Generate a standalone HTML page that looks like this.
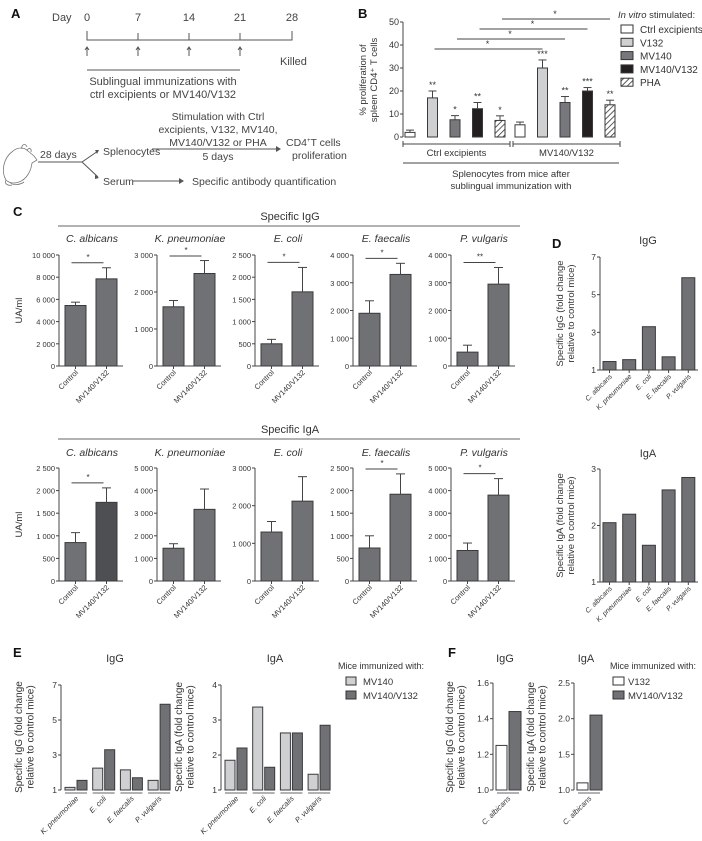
<!DOCTYPE html>
<html><head><meta charset="utf-8"><style>
html,body{margin:0;padding:0;background:#fff}
svg{display:block;font-family:"Liberation Sans",Arial,sans-serif;fill:#333}
.n{font-family:"Liberation Sans Narrow","Liberation Sans",sans-serif}
</style></head><body>
<svg id="fig" width="702" height="841" viewBox="0 0 702 841" xmlns="http://www.w3.org/2000/svg">
<defs><pattern id="hatch" patternUnits="userSpaceOnUse" width="4" height="4" patternTransform="rotate(45)"><rect width="4" height="4" fill="#fff"/><line x1="0" y1="0" x2="0" y2="4" stroke="#333" stroke-width="1.6"/></pattern></defs>
<g font-size="11" fill="#444">
<text x="11" y="18" font-size="13" font-weight="bold" fill="#111">A</text>
<text x="52" y="21">Day</text>
<text x="87" y="21" text-anchor="middle">0</text>
<text x="138" y="21" text-anchor="middle">7</text>
<text x="189" y="21" text-anchor="middle">14</text>
<text x="240" y="21" text-anchor="middle">21</text>
<text x="292" y="21" text-anchor="middle">28</text>
<path d="M87,31V40H292V31M138,33V40M189,33V40M240,33V40" fill="none" stroke="#555"/>
<g stroke="#555" fill="none">
<path d="M87,56V48M85,50L87,47L89,50M138,56V48M136,50L138,47L140,50M189,56V48M187,50L189,47L191,50M240,56V48M238,50L240,47L242,50"/></g>
<text x="280" y="65">Killed</text>
<line x1="87" y1="70" x2="240" y2="70" stroke="#555"/>
<text x="163" y="85" text-anchor="middle">Sublingual immunizations with</text>
<text x="163" y="98" text-anchor="middle">ctrl excipients or MV140/V132</text>
<g fill="none" stroke="#777" stroke-width="0.8">
<path d="M6,180C1,172 3,158 13,151C18,147 24,147 28,151L34,156L37,160L32,163C31,171 27,179 19,182C14,184 9,183 6,180Z"/>
<path d="M22,149C21,144 26,143 27,147M27,151C28,147 32,148 31,152"/>
<path d="M10,182C12,186 20,185 24,182M6,180C4,184 8,186 12,185"/></g>
<text x="40" y="158" font-size="10.5">28 days</text>
<path d="M38,162H82L98,151M82,162L98,177M152,149H280M133,181H183" fill="none" stroke="#555"/>
<path d="M95,150L99,150L97,154ZM95,175L99,178L95,179ZM276,146L281,149L276,152ZM179,178L184,181L179,184Z" fill="#555"/>
<text x="103" y="155" font-size="10.5">Splenocytes</text>
<text x="103" y="185" font-size="10.5">Serum</text>
<g font-size="10.5" text-anchor="middle">
<text x="218" y="120">Stimulation with Ctrl</text><text x="218" y="133">excipients, V132, MV140,</text>
<text x="218" y="146">MV140/V132 or PHA</text><text x="218" y="160">5 days</text></g>
<text x="286" y="146" font-size="10.5">CD4<tspan font-size="6" dy="-4">+</tspan><tspan dy="4">T cells</tspan></text>
<text x="292" y="159" font-size="10.5">proliferation</text>
<text x="192" y="185" font-size="10.5">Specific antibody quantification</text>
</g>
<text x="358" y="18" font-size="13" font-weight="bold" fill="#111">B</text>
<text x="13" y="216" font-size="13" font-weight="bold" fill="#111">C</text>
<text x="552" y="248" font-size="13" font-weight="bold" fill="#111">D</text>
<text x="13" y="657" font-size="13" font-weight="bold" fill="#111">E</text>
<text x="448" y="657" font-size="13" font-weight="bold" fill="#111">F</text>
</svg>
<script>
// ---------- Panel B data ----------
const bStim=['Ctrl excipients','V132','MV140','MV140/V132','PHA'];
const bGroups=['Ctrl excipients','MV140/V132'];
const bCtrlVals=[2,17,7.5,12.3,7.2];
const bCtrlErr=[1,3,1.8,2.7,2];
const bMVVals=[5.3,30,15,20,14];
const bMVErr=[1.2,3.5,2.6,1.5,2];
const bCtrlSig=['','**','*','**','*'];
const bMVSig=['','***','**','***','**'];
const bTicks=[0,10,20,30,40,50];
// ---------- Panel C data ----------
const cTitles=['C. albicans','K. pneumoniae','E. coli','E. faecalis','P. vulgaris'];
const cGroups=['Control','MV140/V132'];
const iggMax=[10000,3000,2500,4000,4000];
const iggTicks=[[0,2000,4000,6000,8000,10000],[0,1000,2000,3000],[0,500,1000,1500,2000,2500],[0,1000,2000,3000,4000],[0,1000,2000,3000,4000]];
const iggControl=[5450,1600,500,1900,500];
const iggControlErr=[300,170,100,450,250];
const iggMV=[7850,2500,1670,3300,2950];
const iggMVErr=[1000,350,550,400,600];
const iggSig=['*','*','*','*','**'];
const igaMax=[2500,5000,3000,2500,5000];
const igaTicks=[[0,500,1000,1500,2000,2500],[0,1000,2000,3000,4000,5000],[0,1000,2000,3000],[0,500,1000,1500,2000,2500],[0,1000,2000,3000,4000,5000]];
const igaControl=[850,1450,1300,730,1350];
const igaControlErr=[220,200,280,270,330];
const igaMV=[1740,3170,2120,1920,3800];
const igaMVErr=[320,900,650,450,730];
const igaSig=['*','','','*','*'];
// ---------- Panel D data ----------
const dCats=['C. albicans','K. pneumoniae','E. coli','E. faecalis','P. vulgaris'];
const dIgG=[1.45,1.55,3.3,1.7,5.9];
const dIgA=[2.05,2.2,1.65,2.63,2.85];
const dIgGTicks=[1,3,5,7];
const dIgATicks=[1,2,3];
// ---------- Panel E data ----------
const eCats=['K. pneumoniae','E. coli','E. faecalis','P. vulgaris'];
const eIgGMV140=[1.15,2.25,2.15,1.55];
const eIgGMVV132=[1.55,3.3,1.7,5.9];
const eIgAMV140=[1.85,3.37,2.63,1.45];
const eIgAMVV132=[2.2,1.65,2.63,2.85];
const eIgGTicks=[1,3,5,7];
const eIgATicks=[1,2,3,4];
// ---------- Panel F data ----------
const fCats=['C. albicans'];
const fIgGV132=[1.25];
const fIgGMVV132=[1.44];
const fIgAV132=[1.1];
const fIgAMVV132=[2.05];
const fIgGTicks=[1.0,1.2,1.4,1.6];
const fIgATicks=[1.0,1.5,2.0,2.5];

const NS='http://www.w3.org/2000/svg';
const svg=document.getElementById('fig');
function mk(tag,attrs,name){const el=document.createElementNS(NS,tag);for(const k in attrs)el.setAttribute(k,attrs[k]);


svg.appendChild(el);return el;}
function txt(x,y,s,name,o){const t=mk('text',Object.assign({x:x,y:y},o||{}),name);t.textContent=s;return t;}
function ln(x1,y1,x2,y2,name,o){return mk('line',Object.assign({x1:x1,y1:y1,x2:x2,y2:y2,stroke:'#444','stroke-width':1},o||{}),name);}
function sc(v,min,max,yTop,yBot){return yBot-(v-min)/(max-min)*(yBot-yTop);}
function fmt(v){return v>=1000?String(v).replace(/(\d)(?=(\d{3})+$)/,'$1 '):String(v);}
function yAxis(x,yTop,yBot,min,max,ticks,labels,fs,name){
  ln(x,yTop,x,yBot,name+'-line');
  ticks.forEach((t,i)=>{const y=sc(t,min,max,yTop,yBot);ln(x-3,y,x,y,name+'-tick');
    txt(x-4,y+3,labels[i],name+'-tick-label',{'text-anchor':'end','font-size':fs,'class':'n'});});
}
function bar(x,w,v,min,max,yTop,yBot,fill,name,stroke){
  const y=sc(v,min,max,yTop,yBot);
  return mk('rect',{x:x,y:y,width:w,height:yBot-y,fill:fill,stroke:stroke||'#3a3a3c','stroke-width':1},name);
}
function errBar(cx,v,e,min,max,yTop,yBot,cap,name){
  const y0=sc(v,min,max,yTop,yBot),y1=sc(v+e,min,max,yTop,yBot);
  ln(cx,y0,cx,y1,name);ln(cx-cap,y1,cx+cap,y1,name+'-cap');return y1;
}
function rotLabel(x,y,s,name,fs,italic){
  const t=txt(x,y,s,name,{'text-anchor':'end','font-size':fs,'class':'n',transform:'rotate(-45 '+x+' '+y+')','font-style':italic?'italic':'normal'});return t;
}
function yTitle(x,cy,lines,fs,name){
  lines.forEach((s,i)=>{const xx=x+i*(fs+1.5);txt(xx,cy,s,name,{'text-anchor':'middle','font-size':fs,transform:'rotate(-90 '+xx+' '+cy+')'});});
}

// ================= Panel B =================
(function(){
  const ax=403,yT=22,yB=137,mn=0,mx=50;
  yAxis(ax,yT,yB,mn,mx,bTicks,bTicks.map(String),9,'b-y-axis');
  yTitle(366,80,['% proliferation of','spleen CD4\u207A T cells'],9.5,'b-y-axis-title');
  const fills=['#ffffff','#cfd0d2','#77787b','#231f20','url(#hatch)'];
  const groups=[[bCtrlVals,bCtrlErr,bCtrlSig],[bMVVals,bMVErr,bMVSig]];
  const tops=[[],[]];
  groups.forEach((g,gi)=>{g[0].forEach((v,i)=>{
    const cx=410+gi*110+i*22.5;
    bar(cx-5,10,v,mn,mx,yT,yB,fills[i],'b-bar-'+bGroups[gi]+'-'+bStim[i]);
    const yt=errBar(cx,v,g[1][i],mn,mx,yT,yB,4,'b-error-bar');tops[gi].push(cx);
    if(g[2][i])txt(cx,yt-3,g[2][i],'b-significance',{'text-anchor':'middle','font-size':9});
  });});
  [[403,510],[513,620]].forEach((r,i)=>{ln(r[0],144,r[1],144,'b-group-bracket');ln(r[0],141,r[0],147,'b-bracket-end');ln(r[1],141,r[1],147,'b-bracket-end');
    txt((r[0]+r[1])/2,156,bGroups[i],'b-group-label',{'text-anchor':'middle','font-size':9.5});});
  ln(403,163,619,163,'b-xaxis-title-line');
  txt(511,177,'Splenocytes from mice after','b-x-axis-title',{'text-anchor':'middle','font-size':9.5});
  txt(511,189,'sublingual immunization with','b-x-axis-title',{'text-anchor':'middle','font-size':9.5});
  for(let i=1;i<5;i++){const y=49-(i-1)*10;ln(tops[0][i]+2,y,tops[1][i],y,'b-comparison-line');
    txt((tops[0][i]+tops[1][i])/2,y-2,'*','b-comparison-star',{'text-anchor':'middle','font-size':9});}
  const lt=txt(618,18,'','b-legend-title',{'font-size':9.5});
  lt.innerHTML='<tspan font-style="italic">In vitro</tspan> stimulated:';
  bStim.forEach((s,i)=>{const y=29+i*13.3;mk('rect',{x:621,y:y-4,width:12,height:8,fill:fills[i],stroke:'#333','stroke-width':1},'b-legend-swatch');
    txt(640,y+4,s,'b-legend-entry',{'font-size':10});});
})();

// ================= Panel C =================
txt(290,220,'Specific IgG','c-igg-header',{'text-anchor':'middle','font-size':11});
ln(58,226,520,226,'c-igg-header-line',{stroke:'#666'});
txt(290,433,'Specific IgA','c-iga-header',{'text-anchor':'middle','font-size':11});
ln(58,439,520,439,'c-iga-header-line',{stroke:'#666'});
function cRow(titleY,yT,yB,maxs,ticks,ctl,ctlE,mv,mvE,sig,row){
  cTitles.forEach((t,i)=>{
    const ax=59+i*98;
    txt(ax+33,titleY,t,'c-'+row+'-title',{'text-anchor':'middle','font-size':10.5,'font-style':'italic','class':'n'});
    yAxis(ax,yT,yB,0,maxs[i],ticks[i],ticks[i].map(fmt),7.5,'c-'+row+'-y-axis');
    ln(ax,yB,ax+64,yB,'c-'+row+'-x-axis');
    const c1=ax+16.5,c2=ax+47.5;
    bar(ax+6,21,ctl[i],0,maxs[i],yT,yB,'#707174','c-'+row+'-bar-control');
    const mvFill=(row==='iga'&&i===0)?'#4d4f53':'#707174';
    bar(ax+37,21,mv[i],0,maxs[i],yT,yB,mvFill,'c-'+row+'-bar-mv140-v132');
    errBar(c1,ctl[i],ctlE[i],0,maxs[i],yT,yB,4.5,'c-'+row+'-error-bar');
    const top=errBar(c2,mv[i],mvE[i],0,maxs[i],yT,yB,4.5,'c-'+row+'-error-bar');
    ln(c1,yB,c1,yB+3,'c-x-tick');ln(c2,yB,c2,yB+3,'c-x-tick');
    rotLabel(c1+3,yB+7,cGroups[0],'c-'+row+'-x-label',7.5);
    rotLabel(c2+3,yB+7,cGroups[1],'c-'+row+'-x-label',7.5);
    if(sig[i]){const y=Math.max(top-5,yT+1);ln(c1-4,y,c2-3,y,'c-'+row+'-sig-line');
      txt((c1+c2)/2-3,y-3,sig[i],'c-'+row+'-sig-star',{'text-anchor':'middle','font-size':8});}
  });
  yTitle(22,(yT+yB)/2,['UA/ml'],9.5,'c-'+row+'-y-title');
}
cRow(242,255,366,iggMax,iggTicks,iggControl,iggControlErr,iggMV,iggMVErr,iggSig,'igg');
cRow(456,468,581,igaMax,igaTicks,igaControl,igaControlErr,igaMV,igaMVErr,igaSig,'iga');

// ================= Panel D =================
function dChart(yT,yB,titleY,vals,ticks,mx,title,row){
  const ax=600;
  txt(648,titleY,title,'d-'+row+'-title',{'text-anchor':'middle','font-size':11,'class':'n'});
  yAxis(ax,yT,yB,1,mx,ticks,ticks.map(String),8.5,'d-'+row+'-y-axis');
  ln(ax,yB,698,yB,'d-'+row+'-x-axis');
  vals.forEach((v,i)=>{const cx=ax+9.5+i*19.7;
    bar(cx-6.5,13,v,1,mx,yT,yB,'#707174','d-'+row+'-bar-'+i);
    ln(cx,yB,cx,yB+3,'d-x-tick');
    rotLabel(cx+3,yB+7,dCats[i],'d-'+row+'-x-label',7,true);});
  yTitle(563,(yT+yB)/2,['Specific '+title+' (fold change','relative to control mice)'],9.5,'d-'+row+'-y-title');
}
dChart(257,370,244,dIgG,dIgGTicks,7,'IgG','igg');
dChart(469,582,457,dIgA,dIgATicks,3,'IgA','iga');

// ================= Panel E =================
function eChart(ax,a,b,ticks,mx,title,row){
  const yT=685,yB=790;
  txt(ax+54,662,title,'e-'+row+'-title',{'text-anchor':'middle','font-size':11,'class':'n'});
  yAxis(ax,yT,yB,1,mx,ticks,ticks.map(String),8.5,'e-'+row+'-y-axis');
  a.forEach((v,i)=>{const cx=ax+15+i*27.7;
    bar(cx-11,10,v,1,mx,yT,yB,'#cfd0d2','e-'+row+'-bar-mv140');
    bar(cx+1,10,b[i],1,mx,yT,yB,'#707174','e-'+row+'-bar-mv140-v132');
    ln(cx-11,yB+3,cx+11,yB+3,'e-pair-underline',{stroke:'#999','stroke-width':1.5});
    rotLabel(cx+3,yB+9,eCats[i],'e-'+row+'-x-label',7.5,true);});
  yTitle(ax-39,737,['Specific '+title+' (fold change','relative to control mice)'],10,'e-'+row+'-y-title');
}
eChart(61,eIgGMV140,eIgGMVV132,eIgGTicks,7,'IgG','igg');
eChart(221,eIgAMV140,eIgAMVV132,eIgATicks,4,'IgA','iga');
txt(338,669,'Mice immunized with:','e-legend-title',{'font-size':9,'class':'n'});
mk('rect',{x:346,y:677,width:10,height:8,fill:'#cfd0d2',stroke:'#333'},'e-legend-swatch-mv140');
txt(363,685,'MV140','e-legend-entry',{'font-size':9.5,'class':'n'});
mk('rect',{x:346,y:691,width:10,height:8,fill:'#707174',stroke:'#333'},'e-legend-swatch-mv140-v132');
txt(363,699,'MV140/V132','e-legend-entry',{'font-size':9.5,'class':'n'});

// ================= Panel F =================
function fChart(ax,a,b,ticks,mn,mx,title,row){
  const yT=683,yB=790;
  txt(ax+12,662,title,'f-'+row+'-title',{'text-anchor':'middle','font-size':11,'class':'n'});
  yAxis(ax,yT,yB,mn,mx,ticks,ticks.map(t=>t.toFixed(1)),8.5,'f-'+row+'-y-axis');
  a.forEach((v,i)=>{const cx=ax+15;
    bar(cx-12,11,v,mn,mx,yT,yB,'#ffffff','f-'+row+'-bar-v132');
    bar(cx+1,12,b[i],mn,mx,yT,yB,'#707174','f-'+row+'-bar-mv140-v132');
    ln(cx-11,yB+3,cx+11,yB+3,'f-pair-underline',{stroke:'#999','stroke-width':1.5});
    rotLabel(cx+3,yB+9,fCats[i],'f-'+row+'-x-label',7.5,true);});
  yTitle(ax-40,737,['Specific '+title+' (fold change','relative to control mice)'],10,'f-'+row+'-y-title');
}
fChart(493,fIgGV132,fIgGMVV132,fIgGTicks,1.0,1.6,'IgG','igg');
fChart(574,fIgAV132,fIgAMVV132,fIgATicks,1.0,2.5,'IgA','iga');
txt(610,669,'Mice immunized with:','f-legend-title',{'font-size':9,'class':'n'});
mk('rect',{x:613,y:677,width:11,height:8,fill:'#ffffff',stroke:'#333'},'f-legend-swatch-v132');
txt(628,685,'V132','f-legend-entry',{'font-size':9.5,'class':'n'});
mk('rect',{x:613,y:691,width:11,height:8,fill:'#707174',stroke:'#333'},'f-legend-swatch-mv140-v132');
txt(628,699,'MV140/V132','f-legend-entry',{'font-size':9.5,'class':'n'});
</script>
</body></html>
